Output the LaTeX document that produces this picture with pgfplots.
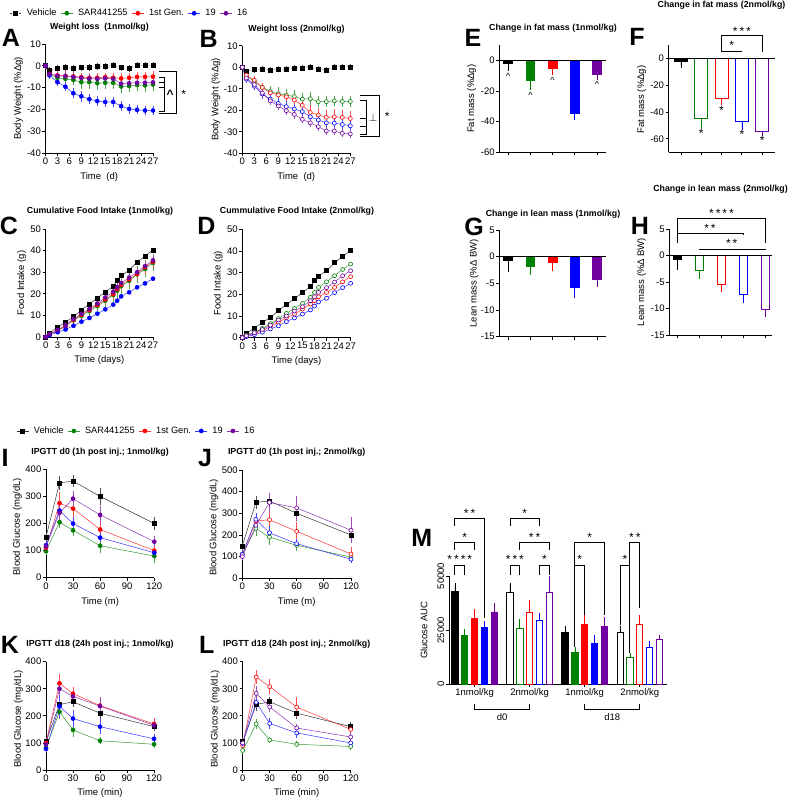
\documentclass[border=0pt]{standalone}
\usepackage{pgfplots}
\usepackage{pgfplotstable}
\pgfplotsset{compat=1.18}
\usepackage{fontspec}
\setmainfont{Liberation Sans}
\definecolor{gpgreen}{RGB}{0,128,0}
\definecolor{gpred}{RGB}{255,0,0}
\definecolor{gpblue}{RGB}{0,0,255}
\definecolor{gppurple}{RGB}{112,0,160}
\newcommand\fs[1]{\fontsize{#1}{#1}\selectfont}
\newcommand\st{\fs{12}}
\pgfplotsset{
  gp/.style={scale only axis, clip=false, axis lines=left,
    axis line style={-, line width=0.9pt},
    tick align=outside, major tick length=3pt,
    tick style={line width=0.8pt, black},
    ticklabel style={font=\fs{9.5}, inner sep=1.5pt},
    label style={font=\fs{9.5}},
    /pgf/number format/assume math mode=true,
    /pgf/number format/1000 sep={},
    scaled ticks=false,
    legend style={font=\fs{9.2}, draw=none, fill=none, legend columns=5, anchor=center,
      /tikz/every odd column/.append style={column sep=3pt},
      /tikz/every even column/.append style={column sep=2pt}},
    legend image code/.code={\draw[mark repeat=2,mark phase=2] plot coordinates {(0pt,0pt) (6pt,0pt) (12pt,0pt)};},
  },
  ser/.style n args={3}{color=#1!80, line width=0.5pt, mark=#2, mark size=2pt,
    mark options={draw=#1, fill=#3, solid, line width=0.6pt}},
  eb/.style={error bars/y dir=both, error bars/y explicit,
    error bars/error bar style={#1!70, line width=0.6pt, solid},
    error bars/error mark options={#1!70, mark size=2pt, line width=0.6pt}},
  bar/.style n args={3}{ybar, bar shift=0pt, draw=#1, fill=#2, line width=0.9pt,
    error bars/y dir=#3, error bars/y explicit,
    error bars/error bar style={#1, line width=0.7pt},
    error bars/error mark options={#1, mark size=2pt, line width=0.7pt}},
}
% shared vehicle data
\pgfplotstableread{
0 0 0
1 -2 0.5
3 -1.1 0.5
5 -0.8 0.5
7 -1.2 0.5
9 -0.9 0.5
11 -0.8 0.5
13 -0.3 0.5
15 -0.3 0.5
17 0.2 0.5
19 -0.9 0.5
21 -1.2 0.5
23 0.2 0.5
25 0.2 0.5
27 0.2 0.5
}\vehW
\pgfplotstableread{
0 0 0
1 1.9 0.2
3 4.5 0.2
5 6.9 0.2
7 9.4 0.2
9 12.5 0.2
11 15.3 0.2
13 18.1 0.2
15 20.8 0.2
17 23.6 0.2
18 26.4 0.2
19 28.4 0.2
21 31 0.2
23 34.6 0.2
25 37.5 0.2
27 40.3 0.2
}\vehF
\pgfplotstableread{
0 150 10
15 350 20
30 357 15
60 300 25
120 200 18
}\vehI
\pgfplotstableread{
0 105 8
15 242 15
30 252 12
60 210 15
120 160 10
}\vehK
\begin{document}
\begin{tikzpicture}
\useasboundingbox (0,0) rectangle (789pt,800pt);
% ================= A =================
\begin{axis}[gp, at={(45.5pt,647pt)}, anchor=south west, width=107.5pt, height=109pt,
  xmin=0, xmax=27, ymin=-40, ymax=10, xtick={0,3,...,27}, ytick={-40,-30,...,10},
  xlabel={Time\ \ (d)}, ylabel={Body Weight (\%Δg)},
  xlabel style={at={(axis description cs:0.5,-0.217)}, anchor=center},
  ylabel style={at={(axis description cs:-0.253,0.5)}, anchor=center},
  legend style={at={(0.78,1.282)}}]
\addplot[ser={black}{square*}{black}, eb=black, densely dotted] table[y error index=2] {\vehW};
\addlegendentry{Vehicle}
\addplot[ser={gpgreen}{*}{gpgreen}, eb=gpgreen] table[y error index=2] {
0 0 0
1 -4 0.8
3 -5.5 1.2
5 -6 1.5
7 -6.5 1.5
9 -7.5 2
11 -7.5 2
13 -8 2
15 -7.8 2
17 -7.8 2
19 -9.5 2.2
21 -9.3 2
23 -8.8 2
25 -9 2
27 -8.6 2
};
\addlegendentry{SAR441255}
\addplot[ser={gpred}{*}{gpred}, eb=gpred] table[y error index=2] {
0 0 0
1 -3.7 1
3 -4.4 1
5 -4.6 1.2
7 -4.9 1.2
9 -5.2 1.2
11 -5.5 1.2
13 -5.5 1.2
15 -5.2 1.2
17 -5.5 1.2
19 -5.8 1.5
21 -5.5 1.5
23 -5.1 1.5
25 -5.1 1.5
27 -5 1.5
};
\addlegendentry{1st Gen.}
\addplot[ser={gpblue}{*}{gpblue}, eb=gpblue] table[y error index=2] {
0 0 0
1 -4.4 0.8
3 -7.5 1
5 -9.6 1.2
7 -12.6 1.3
9 -14 1.5
11 -15.3 1.5
13 -16.2 1.5
15 -16.6 1.5
17 -16.6 1.5
19 -18.5 1.5
21 -19.8 1.5
23 -20.2 1.2
25 -20.5 1.2
27 -20.5 1.2
};
\addlegendentry{19}
\addplot[ser={gppurple}{*}{gppurple}, eb=gppurple] table[y error index=2] {
0 0 0
1 -3.8 0.8
3 -4.6 1
5 -4.8 1
7 -5.1 1
9 -5.6 1
11 -5.9 1
13 -6 1
15 -5.8 1
17 -6 1
19 -8.2 1
21 -8 1
23 -7.8 1
25 -7.8 1
27 -7.6 1
};
\addlegendentry{16}
\draw[line width=0.9pt] (28.5,-2.6) -| (32.9,-21.8) -- (28.5,-21.8);
\draw[line width=0.9pt] (28.5,-5.2) -| (29.9,-20.8) -- (28.5,-20.8);
\draw[line width=0.9pt] (28.5,-7.7) -- (29.9,-7.7);
\draw[line width=0.9pt] (28.5,-9.8) -- (29.9,-9.8);
\node[font=\bfseries\fs{12}] at (31.3,-13.0) {\textasciicircum};
\node[font=\st] at (34.7,-13.0) {*};
\end{axis}
% ================= B =================
\begin{axis}[gp, at={(242.3pt,646.7pt)}, anchor=south west, width=108pt, height=107.5pt,
  xmin=0, xmax=27, ymin=-40, ymax=10, xtick={0,3,...,27}, ytick={-40,-30,...,10},
  xlabel={Time\ \ (d)}, ylabel={Body Weight (\%Δg)},
  xlabel style={at={(axis description cs:0.5,-0.22)}, anchor=center},
  ylabel style={at={(axis description cs:-0.244,0.5)}, anchor=center}]
\addplot[ser={black}{square*}{black}, eb=black, densely dotted] table[y error index=2] {\vehW};
\addplot[ser={gpgreen}{*}{white}, eb=gpgreen] table[y error index=2] {
0 0 0
1 -4 0.8
3 -6.5 1
5 -9.3 1
7 -11.3 1.5
9 -12.3 2
11 -12.9 2
13 -13.6 2
15 -14.8 2
17 -14.6 2
19 -16 1.5
21 -16 1.5
23 -15.6 1.5
25 -15.9 1.5
27 -15.9 1.5
};
\addplot[ser={gpred}{*}{white}, eb=gpred] table[y error index=2] {
0 0 0
1 -3.6 1
3 -6 1
5 -9.4 1.2
7 -11.9 1.5
9 -12.9 1.5
11 -13.7 1.5
13 -15.2 2
15 -17.7 2.5
17 -21 2.5
19 -22.2 2.5
21 -23.3 2.5
23 -23 2.5
25 -23.3 2.5
27 -23.8 2.5
};
\addplot[ser={gpblue}{*}{white}, eb=gpblue] table[y error index=2] {
0 0 0
1 -5.5 0.8
3 -8.8 1
5 -12.4 1.2
7 -14.8 1.2
9 -16.8 1.5
11 -18.3 1.5
13 -19.4 1.5
15 -20.6 1.5
17 -23 1.5
19 -24.5 1.5
21 -25.8 1.5
23 -26 1.5
25 -26.6 1.5
27 -27.2 1.5
};
\addplot[ser={gppurple}{*}{white}, eb=gppurple] table[y error index=2] {
0 0 0
1 -5 0.8
3 -8 1
5 -12 1
7 -15.6 1
9 -18 1
11 -20.2 1
13 -21.9 1
15 -24.2 1
17 -25.8 1
19 -27.6 1
21 -29.6 1
23 -29.6 1
25 -30.7 1
27 -31 1
};
\draw[line width=0.9pt] (29.3,-13.1) -| (34.4,-32.3) -- (29.3,-32.3);
\draw[line width=0.9pt] (29.3,-15.2) -| (31,-31.1) -- (29.3,-31.1);
\draw[line width=0.9pt] (29.3,-23.7) -- (31,-23.7);
\draw[line width=0.9pt] (29.3,-27.3) -- (31,-27.3);
\node[font=\fs{11}] at (32.7,-23.3) {$\perp$};
\node[font=\st] at (36.2,-23.0) {*};
\end{axis}
% ================= C =================
\begin{axis}[gp, at={(45.7pt,463pt)}, anchor=south west, width=107.3pt, height=108pt,
  xmin=0, xmax=27, ymin=0, ymax=50, xtick={0,3,...,27}, ytick={0,10,...,50},
  xlabel={Time (days)}, ylabel={Food Intake (g)},
  xlabel style={at={(axis description cs:0.5,-0.213)}, anchor=center},
  ylabel style={at={(axis description cs:-0.224,0.5)}, anchor=center}]
\addplot[ser={black}{square*}{black}] table {\vehF};
\addplot[ser={gpgreen}{*}{gpgreen}, eb=gpgreen] table[y error index=2] {
0 0 0
1 1.2 0.3
3 2.9 0.5
5 5 0.8
7 7.7 1
9 9.8 1
11 12 1.5
13 14.3 1.5
15 16.8 2
17 19.5 2.5
18 21.5 2.5
19 23.5 3
21 26 3
23 29 3
25 31.5 3
27 34.3 3
};
\addplot[ser={gpred}{*}{gpred}, eb=gpred] table[y error index=2] {
0 0 0
1 1.2 0.3
3 2.9 0.5
5 5.1 0.5
7 7.9 0.8
9 10.2 0.8
11 12.5 1
13 14.8 1
15 17.4 1
17 19.9 1.2
18 22.2 1.2
19 24.1 1.5
21 26.7 1.5
23 29.2 1.5
25 32.3 2
27 34.9 2
};
\addplot[ser={gpblue}{*}{gpblue}] table {
0 0
1 0.9
3 2.2
5 3.5
7 5.2
9 7.1
11 8.8
13 10.8
15 12.8
17 15
18 16.8
19 18.8
21 20.7
23 23
25 24.8
27 27
};
\addplot[ser={gppurple}{*}{gppurple}, eb=gppurple] table[y error index=2] {
0 0 0
1 1.4 0.3
3 3.2 0.5
5 5.5 0.5
7 8.3 0.8
9 10.8 0.8
11 13 1
13 15.5 1
15 18.3 1
17 21 1
18 23 1
19 25 1
21 27.5 1
23 30 1
25 32.8 1
27 35.5 1
};
\end{axis}
% ================= D =================
\begin{axis}[gp, at={(242.3pt,462.3pt)}, anchor=south west, width=108.3pt, height=108.3pt,
  xmin=0, xmax=27, ymin=0, ymax=50, xtick={0,3,...,27}, ytick={0,10,...,50},
  xlabel={Time (days)}, ylabel={Food Intake (g)},
  xlabel style={at={(axis description cs:0.5,-0.213)}, anchor=center},
  ylabel style={at={(axis description cs:-0.222,0.5)}, anchor=center}]
\addplot[ser={black}{square*}{black}] table {\vehF};
\addplot[ser={gpgreen}{*}{white}] table {
0 0
1 1.1
3 2.5
5 4.3
7 6.5
9 8.8
11 11.2
13 13.5
15 15.8
17 18.6
18 20.9
19 23.2
21 25.8
23 28.6
25 31.5
27 34
};
\addplot[ser={gpred}{*}{white}] table {
0 0
1 0.8
3 2
5 3.2
7 5.1
9 7.1
11 9.2
13 10.9
15 13.2
17 15.5
18 17.1
19 18.9
21 20.9
23 23.2
25 25.8
27 28.2
};
\addplot[ser={gpblue}{*}{white}] table {
0 0
1 0.5
3 1.4
5 2.5
7 4
9 5.5
11 7.4
13 9.1
15 10.9
17 12.8
18 14.6
19 16.5
21 18.2
23 20.8
25 23.1
27 25.1
};
\addplot[ser={gppurple}{*}{white}] table {
0 0
1 0.9
3 2.3
5 3.8
7 5.8
9 8.2
11 10
13 12.3
15 14.3
17 17.1
18 18.9
19 20.9
21 23.1
23 25.7
25 28.6
27 30.9
};
\end{axis}
% ================= E =================
\begin{axis}[gp, at={(499.3pt,647.7pt)}, anchor=south west, width=106.6pt, height=107pt,
  xmin=-0.4, xmax=4.4, ymin=-60, ymax=10, ytick={-60,-40,-20,0}, xtick={0,...,4}, xticklabels={},
  ylabel={Fat mass (\%Δg)},
  ylabel style={at={(axis description cs:-0.259,0.5)}, anchor=center}]
\addplot[bar={black}{black}{minus}, bar width=0.4] coordinates {(0,-2.2) +- (0,3.3)};
\addplot[bar={gpgreen}{gpgreen}{minus}, bar width=0.4] coordinates {(1,-13.1) +- (0,4.9)};
\addplot[bar={gpred}{gpred}{minus}, bar width=0.4] coordinates {(2,-5.3) +- (0,2.8)};
\addplot[bar={gpblue}{gpblue}{minus}, bar width=0.4] coordinates {(3,-34.4) +- (0,3.3)};
\addplot[bar={gppurple}{gppurple}{minus}, bar width=0.4] coordinates {(4,-9.2) +- (0,2.4)};
\draw[line width=0.9pt] (-0.4,0) -- (4.4,0);
\node[font=\fs{9}] at (0,-10.3) {\textasciicircum};
\node[font=\fs{9}] at (1,-22.6) {\textasciicircum};
\node[font=\fs{9}] at (2,-12.8) {\textasciicircum};
\node[font=\fs{9}] at (4,-15.6) {\textasciicircum};
\end{axis}
% ================= F =================
\begin{axis}[gp, at={(668.7pt,647.7pt)}, anchor=south west, width=106.3pt, height=107.3pt,
  xmin=-0.6, xmax=4.63, ymin=-70, ymax=10, ytick={-60,-40,-20,0}, xtick={0,...,4}, xticklabels={},
  ylabel={Fat mass (\%Δg)},
  ylabel style={at={(axis description cs:-0.254,0.49)}, anchor=center}]
\addplot[bar={black}{black}{minus}, bar width=0.63] coordinates {(0,-2) +- (0,3.5)};
\addplot[bar={gpgreen}{white}{minus}, bar width=0.63] coordinates {(1,-44.5) +- (0,6.8)};
\addplot[bar={gpred}{white}{minus}, bar width=0.63] coordinates {(2,-30) +- (0,3.3)};
\addplot[bar={gpblue}{white}{minus}, bar width=0.63] coordinates {(3,-46.8) +- (0,5.2)};
\addplot[bar={gppurple}{white}{minus}, bar width=0.63] coordinates {(4,-54.5) +- (0,1.8)};
\draw[line width=0.9pt] (-0.6,0) -- (4.63,0);
\node[font=\st] at (1,-56) {*};
\node[font=\st] at (2,-38.5) {*};
\node[font=\st] at (3,-57) {*};
\node[font=\st] at (4,-61) {*};
\draw[line width=0.9pt] (2,5) -- (2,16.75) -- (4,16.75) -- (4,5);
\draw[line width=0.9pt] (2,5) -- (3,5);
\node[font=\st] at (3,20.5) {*\,*\,*};
\node[font=\st] at (2.5,9.5) {*};
\end{axis}
% ================= G =================
\begin{axis}[gp, at={(499.3pt,463.3pt)}, anchor=south west, width=106.6pt, height=106.7pt,
  xmin=-0.4, xmax=4.4, ymin=-15, ymax=5, ytick={-15,-10,...,5}, xtick={0,...,4}, xticklabels={},
  ylabel={Lean mass (\%Δ BW)},
  ylabel style={at={(axis description cs:-0.237,0.5)}, anchor=center}]
\addplot[bar={black}{black}{minus}, bar width=0.4] coordinates {(0,-0.8) +- (0,1.7)};
\addplot[bar={gpgreen}{gpgreen}{minus}, bar width=0.4] coordinates {(1,-1.9) +- (0,1.2)};
\addplot[bar={gpred}{gpred}{minus}, bar width=0.4] coordinates {(2,-1) +- (0,1.4)};
\addplot[bar={gpblue}{gpblue}{minus}, bar width=0.4] coordinates {(3,-5.75) +- (0,1.65)};
\addplot[bar={gppurple}{gppurple}{minus}, bar width=0.4] coordinates {(4,-4.25) +- (0,1.05)};
\draw[line width=0.9pt] (-0.4,0) -- (4.4,0);
\end{axis}
% ================= H =================
\begin{axis}[gp, at={(669.3pt,465pt)}, anchor=south west, width=102.4pt, height=106pt,
  xmin=-0.36, xmax=4.27, ymin=-15, ymax=5, ytick={-15,-10,...,5}, xtick={0,...,4}, xticklabels={},
  ylabel={Lean mass (\%Δ BW)},
  ylabel style={at={(axis description cs:-0.27,0.5)}, anchor=center}]
\addplot[bar={black}{black}{minus}, bar width=0.38] coordinates {(0,-0.7) +- (0,1.7)};
\addplot[bar={gpgreen}{white}{minus}, bar width=0.38] coordinates {(1,-2.9) +- (0,1.2)};
\addplot[bar={gpred}{white}{minus}, bar width=0.38] coordinates {(2,-5.4) +- (0,1.1)};
\addplot[bar={gpblue}{white}{minus}, bar width=0.38] coordinates {(3,-7.35) +- (0,1.15)};
\addplot[bar={gppurple}{white}{minus}, bar width=0.38] coordinates {(4,-10.15) +- (0,1.1)};
\draw[line width=0.9pt] (-0.36,0) -- (4.27,0);
\draw[line width=0.9pt] (0,2.3) -- (0,6.9) -- (4,6.9) -- (4,2.4);
\node[font=\st] at (2,7.9) {*\,*\,*\,*};
\draw[line width=0.9pt] (0,4.18) -- (3,4.18) -- (3,3.9);
\node[font=\st] at (1.48,5.2) {*\,*};
\draw[line width=0.9pt] (1,1.23) -- (4,1.23);
\node[font=\st] at (2.46,2.25) {*\,*};
\end{axis}
% ================= I =================
\begin{axis}[gp, at={(46pt,222.3pt)}, anchor=south west, width=108.3pt, height=108.3pt,
  xmin=0, xmax=120, ymin=0, ymax=400, xtick={0,30,...,120}, ytick={0,100,...,400},
  xlabel={Time (m)}, ylabel={Blood Glucose (mg/dL)},
  xlabel style={at={(axis description cs:0.5,-0.222)}, anchor=center},
  ylabel style={at={(axis description cs:-0.265,0.47)}, anchor=center},
  legend style={at={(0.835,1.355)}}]
\addplot[ser={black}{square*}{black}, eb=black] table[y error index=2] {\vehI};
\addlegendentry{Vehicle}
\addplot[ser={gpgreen}{*}{gpgreen}, eb=gpgreen] table[y error index=2] {
0 98 5
15 205 15
30 175 12
60 118 18
120 80 18
};
\addlegendentry{SAR441255}
\addplot[ser={gpred}{*}{gpred}, eb=gpred] table[y error index=2] {
0 110 8
15 275 35
30 255 30
60 178 22
120 100 12
};
\addlegendentry{1st Gen.}
\addplot[ser={gpblue}{*}{gpblue}, eb=gpblue] table[y error index=2] {
0 120 8
15 248 18
30 200 15
60 148 10
120 92 8
};
\addlegendentry{19}
\addplot[ser={gppurple}{*}{gppurple}, eb=gppurple] table[y error index=2] {
0 115 8
15 240 20
30 292 22
60 232 25
120 133 12
};
\addlegendentry{16}
\end{axis}
% ================= J =================
\begin{axis}[gp, at={(242.3pt,221.7pt)}, anchor=south west, width=108.7pt, height=108.3pt,
  xmin=0, xmax=120, ymin=0, ymax=500, xtick={0,30,...,120}, ytick={0,100,...,500},
  xlabel={Time (m)}, ylabel={Blood Glucose (mg/dL)},
  xlabel style={at={(axis description cs:0.5,-0.222)}, anchor=center},
  ylabel style={at={(axis description cs:-0.26,0.47)}, anchor=center}]
\addplot[ser={black}{square*}{black}, eb=black] table[y error index=2] {\vehI};
\addplot[ser={gpgreen}{*}{white}, eb=gpgreen] table[y error index=2] {
0 112 8
15 230 25
30 190 25
60 152 15
120 98 10
};
\addplot[ser={gpred}{*}{white}, eb=gpred] table[y error index=2] {
0 110 8
15 265 25
30 270 35
60 217 35
120 112 25
};
\addplot[ser={gpblue}{*}{white}, eb=gpblue] table[y error index=2] {
0 110 8
15 272 20
30 210 20
60 160 12
120 88 10
};
\addplot[ser={gppurple}{*}{white}, eb=gppurple] table[y error index=2] {
0 100 8
15 245 20
30 350 35
60 325 45
120 222 50
};
\end{axis}
% ================= K =================
\begin{axis}[gp, at={(46pt,30pt)}, anchor=south west, width=108pt, height=108.3pt,
  xmin=0, xmax=120, ymin=0, ymax=400, xtick={0,30,...,120}, ytick={0,100,...,400},
  xlabel={Time (min)}, ylabel={Blood Glucose (mg/dL)},
  xlabel style={at={(axis description cs:0.5,-0.215)}, anchor=center},
  ylabel style={at={(axis description cs:-0.256,0.47)}, anchor=center}]
\addplot[ser={black}{square*}{black}, eb=black] table[y error index=2] {\vehK};
\addplot[ser={gpgreen}{*}{gpgreen}, eb=gpgreen] table[y error index=2] {
0 83 5
15 215 20
30 148 18
60 108 5
120 95 6
};
\addplot[ser={gpred}{*}{gpred}, eb=gpred] table[y error index=2] {
0 100 8
15 320 28
30 282 18
60 238 25
120 170 15
};
\addplot[ser={gpblue}{*}{gpblue}, eb=gpblue] table[y error index=2] {
0 78 5
15 235 35
30 190 25
60 160 20
120 115 12
};
\addplot[ser={gppurple}{*}{gppurple}, eb=gppurple] table[y error index=2] {
0 95 8
15 300 20
30 272 15
60 236 25
120 165 10
};
\end{axis}
% ================= L =================
\begin{axis}[gp, at={(242.7pt,30pt)}, anchor=south west, width=108pt, height=108.3pt,
  xmin=0, xmax=120, ymin=0, ymax=400, xtick={0,30,...,120}, ytick={0,100,...,400},
  xlabel={Time (min)}, ylabel={Blood Glucose (mg/dL)},
  xlabel style={at={(axis description cs:0.5,-0.215)}, anchor=center},
  ylabel style={at={(axis description cs:-0.256,0.47)}, anchor=center}]
\addplot[ser={black}{square*}{black}, eb=black] table[y error index=2] {\vehK};
\addplot[ser={gpgreen}{*}{white}, eb=gpgreen] table[y error index=2] {
0 72 5
15 170 12
30 111 5
60 95 4
120 87 4
};
\addplot[ser={gpred}{*}{white}, eb=gpred] table[y error index=2] {
0 90 5
15 343 18
30 308 20
60 232 30
120 150 12
};
\addplot[ser={gpblue}{*}{white}, eb=gpblue] table[y error index=2] {
0 98 8
15 250 12
30 172 12
60 137 10
120 100 6
};
\addplot[ser={gppurple}{*}{white}, eb=gppurple] table[y error index=2] {
0 100 8
15 283 20
30 233 10
60 155 8
120 122 6
};
\end{axis}
% ================= M =================
\begin{axis}[gp, at={(449pt,115.7pt)}, anchor=south west, width=218pt, height=108.3pt,
  xmin=-0.6, xmax=21.57, ymin=0, ymax=50000, ytick={0,25000,50000},
  xtick={2,7.6,13.2,18.8}, xticklabels={1nmol/kg,2nmol/kg,1nmol/kg,2nmol/kg},
  yticklabel style={rotate=90, anchor=south},
  ylabel={Glucose AUC},
  ylabel style={at={(axis description cs:-0.115,0.5)}, anchor=center}]
\addplot[bar={black}{black}{plus}, bar width=0.64] coordinates {(0,42769) +- (0,3077) (11.2,24000) +- (0,2154)};
\addplot[bar={gpgreen}{gpgreen}{plus}, bar width=0.64] coordinates {(1,22462) +- (0,2300) (12.2,14615) +- (0,1539)};
\addplot[bar={gpred}{gpred}{plus}, bar width=0.64] coordinates {(2,30462) +- (0,3384) (13.2,27692) +- (0,3231)};
\addplot[bar={gpblue}{gpblue}{plus}, bar width=0.64] coordinates {(3,26308) +- (0,1846) (14.2,18923) +- (0,3077)};
\addplot[bar={gppurple}{gppurple}{plus}, bar width=0.64] coordinates {(4,33385) +- (0,3077) (15.2,26769) +- (0,3539)};
\addplot[bar={black}{white}{plus}, bar width=0.64] coordinates {(5.6,42462) +- (0,3384) (16.8,24000) +- (0,2154)};
\addplot[bar={gpgreen}{white}{plus}, bar width=0.64] coordinates {(6.6,25846) +- (0,3539) (17.8,12308) +- (0,1077)};
\addplot[bar={gpred}{white}{plus}, bar width=0.64] coordinates {(7.6,33231) +- (0,4615) (18.8,27692) +- (0,3539)};
\addplot[bar={gpblue}{white}{plus}, bar width=0.64] coordinates {(8.6,29538) +- (0,2308) (19.8,17231) +- (0,1692)};
\addplot[bar={gppurple}{white}{plus}, bar width=0.64] coordinates {(9.6,42462) +- (0,6461) (20.8,20769) +- (0,1231)};
% group brackets below
\draw[line width=0.9pt] (2,-9000) -- (2,-11400) -- (7.6,-11400) -- (7.6,-9000);
\draw[line width=0.9pt] (13.2,-9000) -- (13.2,-11400) -- (18.8,-11400) -- (18.8,-9000);
\node[font=\fs{9.5}] at (4.8,-15000) {d0};
\node[font=\fs{9.5}] at (16,-15000) {d18};
% significance
\begin{scope}[line width=0.9pt]
\draw (0,50500) |- (1,55077) -- (1,50500);
\draw (0,62000) |- (2,65385) -- (2,62000);
\draw (0,73077) |- (3,76615) -- (3,30462);
\draw (5.6,50500) |- (6.6,55077) -- (6.6,50500);
\draw (5.6,73077) |- (8.6,76615) -- (8.6,73077);
\draw (6.6,62000) |- (9.6,65385) -- (9.6,62000);
\draw (8.6,50500) |- (9.6,55077) -- (9.6,50500);
\draw (12.2,17385) |- (13.2,55077) -- (13.2,32000);
\draw (12.2,55077) |- (15.2,65385) -- (15.2,32000);
\draw (16.8,27385) |- (17.8,55077) -- (17.8,14308);
\draw (17.8,55077) |- (18.8,65385) -- (18.8,35077);
\end{scope}
\begin{scope}[every node/.style={font=\st}]
\node at (0.5,57500) {*\,*\,*\,*};
\node at (1,67800) {*};
\node at (1.5,79000) {*\,*};
\node at (6.1,57500) {*\,*\,*};
\node at (7.1,79000) {*};
\node at (8.1,67800) {*\,*};
\node at (9.1,57500) {*};
\node at (12.7,57500) {*};
\node at (13.7,67800) {*};
\node at (17.3,57500) {*};
\node at (18.3,67800) {*\,*};
\end{scope}
\end{axis}
% ================= titles & letters =================
\begin{scope}[every node/.style={font=\bfseries\fs{8.8}, inner sep=0pt}]
\node at (99.5pt,772.7pt) {Weight loss\ \ (1nmol/kg)};
\node at (296.5pt,771pt) {Weight loss (2nmol/kg)};
\node at (100pt,589pt) {Cumulative Food Intake (1nmol/kg)};
\node at (297pt,588.3pt) {Cummulative Food Intake (2nmol/kg)};
\node at (553pt,772pt) {Change in fat mass (1nmol/kg)};
\node at (721.5pt,794.7pt) {Change in fat mass (2nmol/kg)};
\node at (553pt,586pt) {Change in lean mass (1nmol/kg)};
\node at (720.5pt,610.7pt) {Change in lean mass (2nmol/kg)};
\node at (100pt,348pt) {IPGTT d0 (1h post inj.; 1nmol/kg)};
\node at (296.7pt,347.7pt) {IPGTT d0 (1h post inj.; 2nmol/kg)};
\node at (100pt,155.7pt) {IPGTT d18 (24h post inj.; 1nmol/kg)};
\node at (296.7pt,155.7pt) {IPGTT d18 (24h post inj.; 2nmol/kg)};
\end{scope}
\begin{scope}[every node/.style={font=\bfseries\fs{25}, inner sep=0pt}]
\node at (10.8pt,762pt) {A};
\node at (208.7pt,761pt) {B};
\node at (9pt,574.3pt) {C};
\node at (206.5pt,574.3pt) {D};
\node at (473pt,762pt) {E};
\node at (637pt,763pt) {F};
\node at (474pt,573pt) {G};
\node at (640pt,574pt) {H};
\node at (5pt,342pt) {I};
\node at (205pt,342pt) {J};
\node at (10pt,155pt) {K};
\node at (206.7pt,155pt) {L};
\node at (421.7pt,262pt) {M};
\end{scope}
\end{tikzpicture}
\end{document}
